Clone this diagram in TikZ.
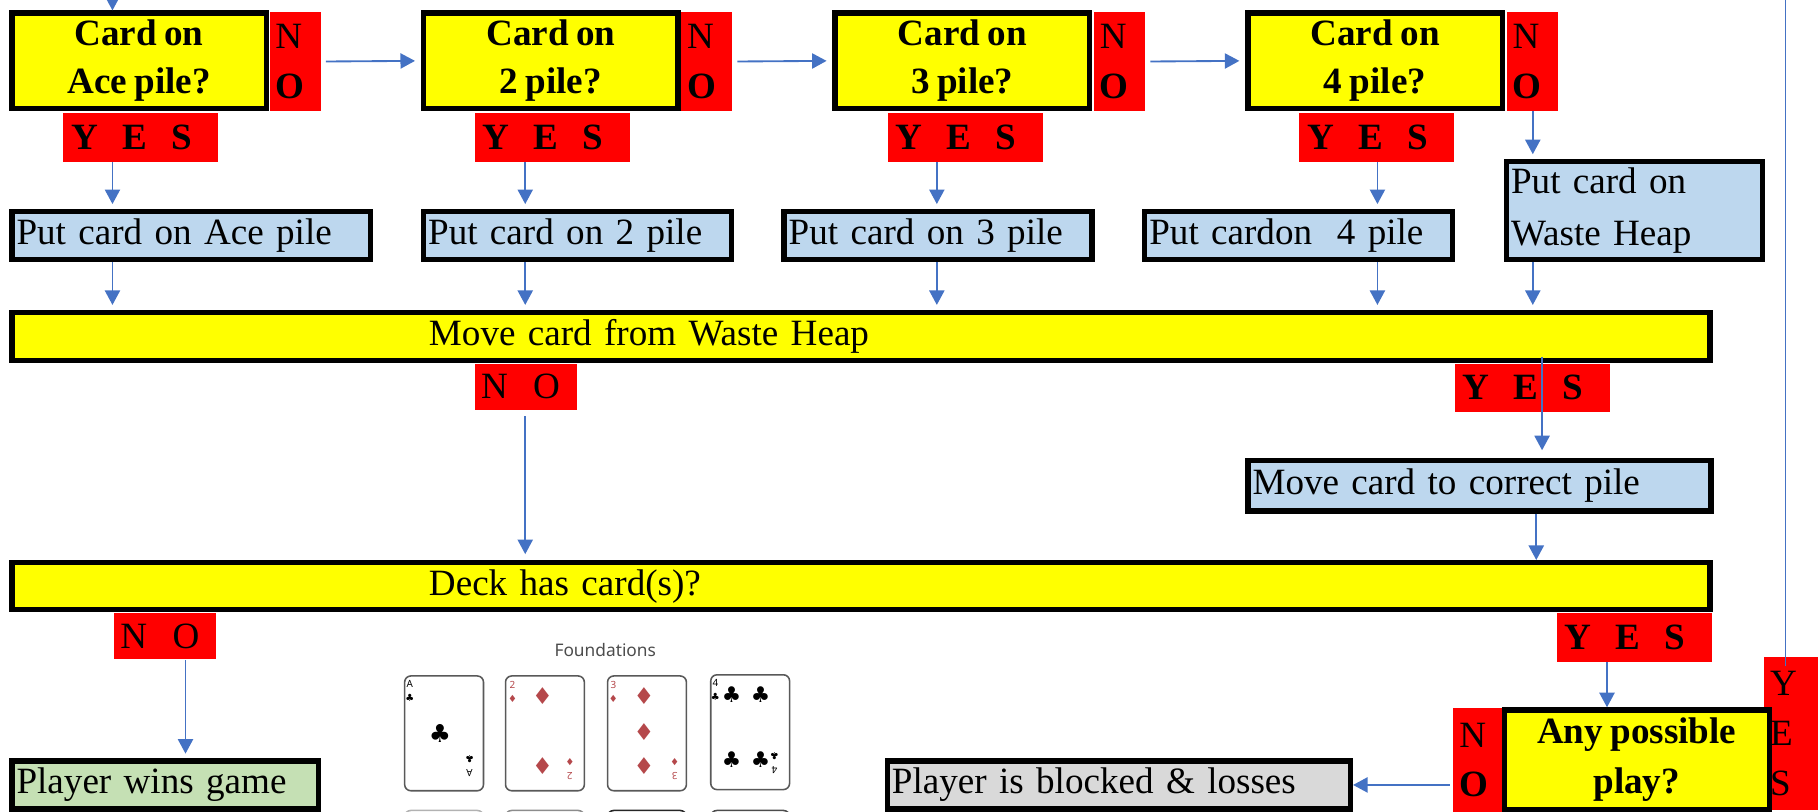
\documentclass[tikz,border=0pt]{standalone}
\usepackage{fontspec}
\setmainfont{Liberation Serif}[WordSpace=0.8]
\newfontfamily\suitfont{DejaVu Sans}
\newfontfamily\labelfont{Noto Sans}
\usetikzlibrary{arrows.meta}
\newcommand\flowfont{\fontsize{12}{15.5}\selectfont}
\definecolor{askyellow}{HTML}{FFFF00}
\definecolor{answerred}{HTML}{FF0000}
\definecolor{taskblue}{HTML}{BDD7EE}
\definecolor{wingreen}{HTML}{C5E0B4}
\definecolor{lossgrey}{HTML}{D9D9D9}
\definecolor{flowblue}{HTML}{4472C4}
\definecolor{diamred}{HTML}{B5484B}

\begin{document}
\begin{tikzpicture}[x=0.375pt, y=-0.375pt,
  boxed/.style={draw, line width=1.7pt, inner xsep=1.5pt, inner ysep=0pt, anchor=north west, font=\flowfont},
  ask/.style={boxed, fill=askyellow, font=\flowfont\bfseries, align=center, inner sep=0pt, minimum width=82.3pt, minimum height=30.9pt},
  task/.style={boxed, fill=taskblue, align=left, text width=#1, minimum height=15.55pt},
  bar/.style={boxed, fill=askyellow, align=left, text width=546.2pt},
  yesbox/.style={fill=answerred, font=\flowfont\bfseries, align=left, inner xsep=2.6pt, inner ysep=0pt, text width=45pt, minimum height=15.75pt, anchor=north west},
  nobox/.style={fill=answerred, font=\flowfont, align=left, inner xsep=2pt, inner ysep=0pt, text width=29pt, minimum height=15pt, anchor=north west},
  sidebox/.style={fill=answerred, font=\fontsize{12}{16}\selectfont, align=left, inner xsep=1.9pt, inner ysep=0pt, text width=#1, anchor=north west},
  flowline/.style={draw=flowblue, line width=0.6pt},
  flow/.style={flowline, -{Triangle[length=4.7pt, width=4.9pt]}},
  card/.style={draw=black!65, line width=0.5pt, rounded corners=2pt, fill=white},
  pip/.style={font=\suitfont\fontsize{#1}{#1}\selectfont, inner sep=0pt},
  corner/.style={font=\labelfont\fontsize{3.2}{4.6}\selectfont, align=center, inner sep=0pt}
]
%definitions
\useasboundingbox (0,0) rectangle (1568,700);
\coordinate (lane1) at (97,0);
\coordinate (lane2) at (453,0);
\coordinate (lane3) at (808,0);
\coordinate (lane4) at (1188,0);
\coordinate (lane5) at (1322,0);
\coordinate (lane6) at (1330,0);
\coordinate (lane7) at (1325,0);
\coordinate (lane8) at (160,0);
\coordinate (lane9) at (1386,0);
\coordinate (lane10) at (1540,0);

% pile questions
\node[ask] (ace) at (8,9) {Card on\\Ace pile?};
\node[sidebox=12.7pt, minimum height=31.9pt] (noace) at (232,10) {N\\\textbf{O}};
\node[yesbox] (yesace) at (54,97) {Y\hspace{7.8pt}E\hspace{7.8pt}S};
\node[ask] (two) at (363,9) {Card on\\2 pile?};
\node[sidebox=12.7pt, minimum height=31.9pt] (notwo) at (587,10) {N\\\textbf{O}};
\node[yesbox] (yestwo) at (409,97) {Y\hspace{7.8pt}E\hspace{7.8pt}S};
\node[ask] (three) at (718,9) {Card on\\3 pile?};
\node[sidebox=12.7pt, minimum height=31.9pt] (nothree) at (943,10) {N\\\textbf{O}};
\node[yesbox] (yesthree) at (765,97) {Y\hspace{7.8pt}E\hspace{7.8pt}S};
\node[ask] (four) at (1074,9) {Card on\\4 pile?};
\node[sidebox=12.7pt, minimum height=31.9pt] (nofour) at (1299,10) {N\\\textbf{O}};
\node[yesbox] (yesfour) at (1120,97) {Y\hspace{7.8pt}E\hspace{7.8pt}S};

% moves
\node[task=113.05pt] (putace) at (8,180) {Put card on Ace pile};
\node[task=96.55pt] (puttwo) at (363,180) {Put card on 2 pile};
\node[task=96.55pt] (putthree) at (674,180) {Put card on 3 pile};
\node[task=96.55pt] (putfour) at (985,180) {Put cardon~ 4 pile};
\node[task=79.7pt, minimum height=31.7pt] (putwaste) at (1297,137) {Put card on\\[1.3pt]Waste Heap};

\node[bar, minimum height=15.55pt] (move) at (8,267) {\hspace*{133.4pt}Move card from Waste Heap};
\node[nobox] (nomove) at (409,313) {N\hspace{8.2pt}O};
\node[yesbox] (yesmove) at (1254,313) {Y\hspace{7.8pt}E\hspace{7.8pt}S};
\node[task=146.8pt, minimum height=16.3pt] (correct) at (1074,395) {Move card to correct pile};

\node[bar, minimum height=15.18pt] (deck) at (8,483) {\hspace*{133.4pt}Deck has card(s)?};
\node[nobox] (nodeck) at (98,528) {N\hspace{8.2pt}O};
\node[yesbox] (yesdeck) at (1342,528) {Y\hspace{7.8pt}E\hspace{7.8pt}S};

% end of game
\node[task=96.2pt, fill=wingreen] (wins) at (8,654) {Player wins game};
\node[task=146.8pt, fill=lossgrey] (blocked) at (763,654) {Player is blocked \& losses};
\node[sidebox=13.8pt, minimum height=49.5pt, font=\fontsize{12}{16.2}\selectfont] (yesplay) at (1521,566) {Y\\E\\S};
\node[ask, minimum width=85.8pt, minimum height=32.1pt, font=\fontsize{12}{16}\selectfont\bfseries] (anyplay) at (1295,610) {Any possible\\play?};
\node[sidebox=12pt, minimum height=33.75pt] (noplay) at (1253,610) {N\\\textbf{O}};

% connectors
\draw[flow] (lane1) -- (lane1 |- ace.north);
\draw[flow, shorten <=1.5pt, shorten >=1.9pt] (noace.east) -- (two.west);
\draw[flow, shorten <=1.5pt, shorten >=1.9pt] (notwo.east) -- (three.west);
\draw[flow, shorten <=1.5pt, shorten >=1.9pt] (nothree.east) -- (four.west);
\draw[flow, shorten >=1.5pt] (yesace.south -| lane1) -- (putace.north -| lane1);
\draw[flow, shorten >=1.5pt] (yestwo.south -| lane2) -- (puttwo.north -| lane2);
\draw[flow, shorten >=1.5pt] (yesthree.south -| lane3) -- (putthree.north -| lane3);
\draw[flow, shorten >=1.5pt] (yesfour.south -| lane4) -- (putfour.north -| lane4);
\draw[flow, shorten >=1.5pt] (nofour.south -| lane5) -- (putwaste.north -| lane5);
\draw[flow, shorten >=1.5pt] (putace.south -| lane1) -- (move.north -| lane1);
\draw[flow, shorten >=1.5pt] (puttwo.south -| lane2) -- (move.north -| lane2);
\draw[flow, shorten >=1.5pt] (putthree.south -| lane3) -- (move.north -| lane3);
\draw[flow, shorten >=1.5pt] (putfour.south -| lane4) -- (move.north -| lane4);
\draw[flow, shorten >=1.5pt] (putwaste.south -| lane5) -- (move.north -| lane5);
\draw[flow, shorten <=1.9pt, shorten >=1.9pt] (nomove.south -| lane2) -- (deck.north -| lane2);
\draw[flow, shorten >=2.5pt] ([yshift=2pt]move.south -| lane6) -- (correct.north -| lane6);
\draw[flow] (correct.south -| lane7) -- (deck.north -| lane7);
\draw[flow, shorten >=1.5pt] (nodeck.south -| lane8) -- (wins.north -| lane8);
\draw[flow] (yesdeck.south -| lane9) -- (anyplay.north -| lane9);
\draw[flow, shorten <=1pt] (noplay.west |- blocked.east) -- (blocked.east);
\draw[flowline] ([yshift=-3.3pt]yesplay.north -| lane10) -- (lane10);

% foundations picture
\node[font=\labelfont\fontsize{5.6}{6}\selectfont, text=black!70, inner sep=0pt] (found) at (522,561) {Foundations};
\draw[card] (349,583) rectangle (417,682);
\draw[card] (436,583) rectangle (504,682);
\draw[card] (524,583) rectangle (592,682);
\draw[card] (613,582) rectangle (681,681);
\draw[card, draw=black!30] (349,699) rectangle (417,740);
\draw[card, draw=black!45] (436,699) rectangle (504,740);
\draw[card, draw=black!85] (524,699) rectangle (592,740);
\draw[card, draw=black!70] (613,699) rectangle (681,740);

\node[corner] (acetop) at (353.5,596) {A\\{\suitfont ♣}};
\node[pip=8] (acemid) at (379.5,632.5) {♣};
\node[corner, rotate=180] (acebot) at (405,661) {A\\{\suitfont ♣}};

\node[corner, text=diamred] (twotop) at (442,597) {2\\{\suitfont ♦}};
\node[pip=7.5, text=diamred] (twoa) at (468,600) {♦};
\node[pip=7.5, text=diamred] (twob) at (468,661) {♦};
\node[corner, rotate=180, text=diamred] (twobot) at (491.5,663) {2\\{\suitfont ♦}};

\node[corner, text=diamred] (threetop) at (529,597) {3\\{\suitfont ♦}};
\node[pip=7.5, text=diamred] (threea) at (555.5,600.5) {♦};
\node[pip=7.5, text=diamred] (threeb) at (555.5,631) {♦};
\node[pip=7.5, text=diamred] (threec) at (555.5,661) {♦};
\node[corner, rotate=180, text=diamred] (threebot) at (582,663) {3\\{\suitfont ♦}};

\node[corner] (fourtop) at (617,595) {4\\{\suitfont ♣}};
\node[pip=7] (foura) at (631,599) {♣};
\node[pip=7] (fourb) at (656,599) {♣};
\node[pip=7] (fourc) at (631,655) {♣};
\node[pip=7] (fourd) at (656,655) {♣};
\node[corner, rotate=180] (fourbot) at (668,658) {4\\{\suitfont ♣}};
\end{tikzpicture}
\end{document}
